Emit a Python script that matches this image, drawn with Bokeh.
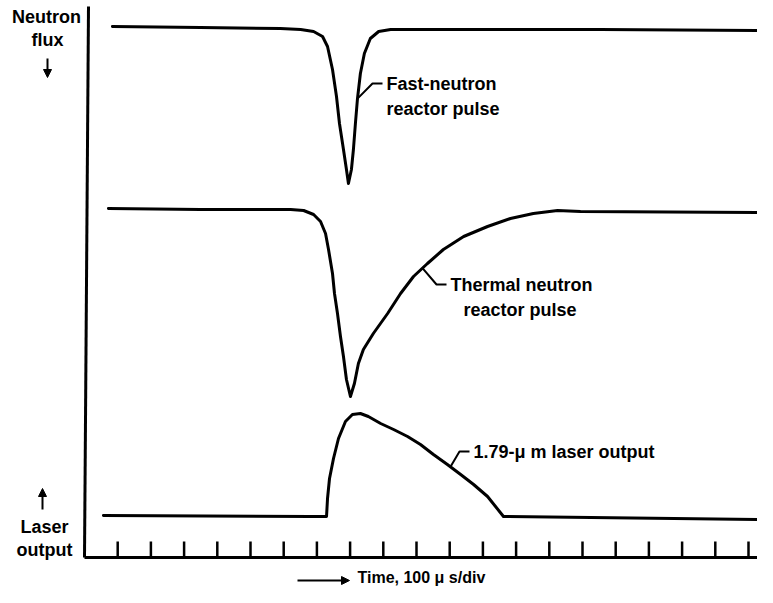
import numpy as np
from bokeh.plotting import figure
from bokeh.models import Range1d, Arrow, NormalHead
from bokeh.core.properties import value
from bokeh.embed import file_html
from bokeh.resources import INLINE

# ---- data (time in microseconds, signals in arbitrary units relative to each trace's baseline) ----
fast_t = [84, 349, 590, 651, 690, 717, 732, 747, 759, 768, 780, 789, 795,
          804, 810, 816, 822, 831, 843, 861, 886, 922, 982, 1093, 1554, 2051]
fast_flux = [1, 0, -1, -2, -4, -9, -19, -42, -69, -96, -122, -142, -156,
             -142, -122, -96, -72, -46, -26, -11, -4, -2, -2, -2, -2, -3]

thermal_t = [72, 349, 621, 660, 690, 711, 726, 735, 747, 753, 762, 771, 780, 789, 801,
             813, 825, 840, 870, 913, 952, 991, 1033, 1081, 1142, 1214, 1283, 1352,
             1425, 1494, 2051]
thermal_flux = [1, 0, 0, -1, -5, -12, -24, -40, -64, -84, -104, -127, -147, -170, -187,
                -174, -154, -140, -124, -104, -84, -67, -54, -40, -27, -17, -9, -4,
                -1, -2, -3]

laser_t = [57, 681, 729, 732, 738, 750, 765, 786, 807, 831, 855, 892, 931, 973,
           1012, 1051, 1093, 1133, 1172, 1214, 1262, 2051]
laser_out = [1, 0, 0, 18, 38, 58, 78, 95, 102, 103, 100, 93, 87, 80,
             72, 62, 52, 42, 32, 20, 0, -3]

tick_t = [100 * k for k in range(1, 21)]

labels_fast = ["Fast-neutron", "reactor pulse"]
labels_thermal = ["Thermal neutron", "reactor pulse"]
label_laser = "1.79-\u03bc m  laser output"
label_time = "Time, 100 \u03bc s/div"
label_flux = ["Neutron", "flux"]
label_laser_axis = ["Laser", "output"]

# ---- layout ----
W, H = 757, 587
XS = 0.332          # px per microsecond (one division = 100 us)
X0 = 84             # frame px of t = 0
x_start = -X0 / XS
x_end = (W - X0) / XS
y_end = 557
y_start = y_end - H

fast_base, thermal_base, laser_base = 530, 348, 41

FONT = value("Liberation Sans")
FS = "18px"
FSTYLE = "bold"
LW = 3

p = figure(width=W, height=H, output_backend="svg", toolbar_location=None,
           x_range=Range1d(x_start, x_end), y_range=Range1d(y_start, y_end),
           x_axis_type=None, y_axis_type=None, min_border=0)
p.grid.visible = False
p.outline_line_color = None
p.background_fill_color = "white"
p.border_fill_color = "white"

def dx(px):
    return px / XS

txt = dict(text_font=FONT, text_font_size=FS, text_font_style=FSTYLE,
           text_baseline="middle", text_color="black")

# frame (axes)
p.segment(x0=[0], y0=[0], x1=[dx(4)], y1=[551], line_color="black", line_width=LW)
p.segment(x0=[0], y0=[0], x1=[x_end], y1=[0], line_color="black", line_width=LW)
p.segment(x0=tick_t, y0=[0] * len(tick_t), x1=tick_t, y1=[16] * len(tick_t),
          line_color="black", line_width=2.5)

# traces
fy = [fast_base + v for v in fast_flux]
ty = [thermal_base + v for v in thermal_flux]
ly = [laser_base + v for v in laser_out]
for xs, ys in ((fast_t, fy), (thermal_t, ty), (laser_t, ly)):
    p.line(xs, ys, line_color="black", line_width=LW, line_join="round", line_cap="round")

# labels with leaders
def leader(curve_t, curve_y, t_anchor, text_x, text_y):
    ya = float(np.interp(t_anchor, curve_t, curve_y))
    p.line([t_anchor, text_x - dx(14), text_x - dx(4)], [ya, text_y, text_y],
           line_color="black", line_width=2)

fast_lx, fast_ly = dx(386 - 84), 474
leader(fast_t, fy, dx(357 - 84), fast_lx, fast_ly)
p.text(x=[fast_lx, fast_lx], y=[fast_ly, fast_ly - 25], text=labels_fast,
       text_align="left", **txt)

th_lx, th_ly = dx(450 - 84), 273
leader(thermal_t, ty, dx(422 - 84), th_lx, th_ly)
p.text(x=[th_lx, th_lx + dx(13)], y=[th_ly, th_ly - 25], text=labels_thermal,
       text_align="left", **txt)

la_lx, la_ly = dx(473 - 84), 106
leader(laser_t, ly, dx(450 - 84), la_lx, la_ly)
p.text(x=[la_lx], y=[la_ly], text=[label_laser], text_align="left", **txt)

# left-side labels
p.text(x=[dx(46 - 84), dx(47 - 84)], y=[541, 518], text=label_flux,
       text_align="center", **txt)
p.text(x=[dx(44 - 84), dx(44 - 84)], y=[31, 8], text=label_laser_axis,
       text_align="center", **txt)

head = dict(size=8, fill_color="black", line_color="black")
p.add_layout(Arrow(end=NormalHead(**head), x_start=dx(47 - 84), y_start=499,
                   x_end=dx(47 - 84), y_end=480, line_width=2))
p.add_layout(Arrow(end=NormalHead(**head), x_start=dx(42 - 84), y_start=48,
                   x_end=dx(42 - 84), y_end=69, line_width=2))

# time label
p.add_layout(Arrow(end=NormalHead(**head), x_start=dx(297 - 84), y_start=-23,
                   x_end=dx(349 - 84), y_end=-23, line_width=2))
txt_time = dict(txt, text_font_size="16px")
p.text(x=[dx(357 - 84)], y=[-20], text=[label_time], text_align="left", **txt_time)

open("out.html", "w").write(file_html(p, INLINE))
